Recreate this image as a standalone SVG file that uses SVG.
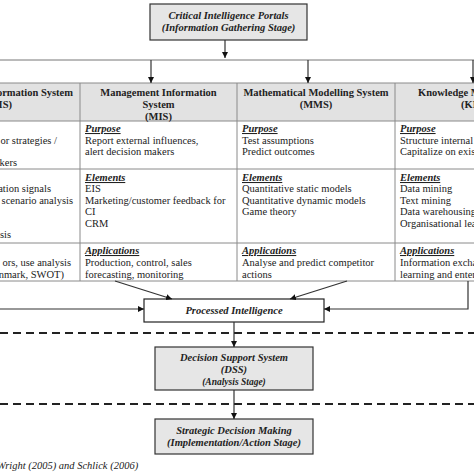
<svg xmlns="http://www.w3.org/2000/svg" width="474" height="474" viewBox="0 0 474 474">
<style>
text{font-family:"Liberation Serif","Times New Roman",serif;font-size:10.5px;fill:#222}
.h{font-weight:bold;text-anchor:middle}
.bi{font-weight:bold;font-style:italic;text-anchor:middle}
.sub{font-weight:bold;font-style:italic;text-decoration:underline}
.e{text-anchor:end}
.box{fill:#e6e6e6;stroke:#333;stroke-width:1.2}
.grid{stroke:#8a8a8a;stroke-width:1;fill:none}
.ln{stroke:#333;stroke-width:1.2;fill:none}
.dash{stroke:#222;stroke-width:2;stroke-dasharray:8 5;fill:none}
</style>
<defs>
<marker id="ah" viewBox="0 0 10 10" refX="10" refY="5" markerWidth="6" markerHeight="6" orient="auto" markerUnits="userSpaceOnUse">
<path d="M0,0 L10,5 L0,10 z" fill="#111"/>
</marker>
</defs>
<rect width="474" height="474" fill="#fff"/>

<g id="portals">
<rect class="box" x="150" y="4" width="157" height="36"/>
<text class="bi" x="228.5" y="19">Critical Intelligence Portals</text>
<text class="bi" x="228.5" y="31">(Information Gathering Stage)</text>
</g>

<g id="table">
<rect x="-2" y="83" width="478" height="38" fill="#e2e2e2"/>
<path class="grid" d="M-2,83 H476 M-2,121 H476 M-2,169 H476 M-2,243 H476 M-2,281 H476 M80,83 V281 M237,83 V281 M395,83 V281"/>
</g>

<g id="col-left">
<text class="h e" x="73" y="96">Information System</text>
<text class="h e" x="12" y="108">(IS)</text>
<text class="e" x="57" y="144">or strategies /</text>
<text class="e" x="17" y="166">kers</text>
<text class="e" x="51" y="192">ation signals</text>
<text class="e" x="73" y="204">scenario analysis</text>
<text class="e" x="11" y="238">sis</text>
<text class="e" x="71" y="266">ors, use analysis</text>
<text class="e" x="64" y="278">nmark, SWOT)</text>
</g>

<g id="col-mis">
<text class="h" x="158.5" y="96">Management Information</text>
<text class="h" x="158.5" y="108">System</text>
<text class="h" x="158.5" y="120">(MIS)</text>
<text class="sub" x="85" y="132">Purpose</text>
<text x="85" y="144">Report external influences,</text>
<text x="85" y="155">alert decision makers</text>
<text class="sub" x="85" y="181">Elements</text>
<text x="85" y="192">EIS</text>
<text x="85" y="204">Marketing/customer feedback for</text>
<text x="85" y="215">CI</text>
<text x="85" y="227">CRM</text>
<text class="sub" x="85" y="254">Applications</text>
<text x="85" y="266">Production, control, sales</text>
<text x="85" y="278">forecasting, monitoring</text>
</g>

<g id="col-mms">
<text class="h" x="316" y="96">Mathematical Modelling System</text>
<text class="h" x="316" y="108">(MMS)</text>
<text class="sub" x="242" y="132">Purpose</text>
<text x="242" y="144">Test assumptions</text>
<text x="242" y="155">Predict outcomes</text>
<text class="sub" x="242" y="181">Elements</text>
<text x="242" y="192">Quantitative static models</text>
<text x="242" y="204">Quantitative dynamic models</text>
<text x="242" y="215">Game theory</text>
<text class="sub" x="242" y="254">Applications</text>
<text x="242" y="266">Analyse and predict competitor</text>
<text x="242" y="278">actions</text>
</g>

<g id="col-km">
<text style="font-weight:bold" x="418" y="96">Knowledge Management</text>
<text style="font-weight:bold" x="461" y="108">(KMS)</text>
<text class="sub" x="400" y="132">Purpose</text>
<text x="400" y="144">Structure internal knowledge</text>
<text x="400" y="155">Capitalize on existing knowledge</text>
<text class="sub" x="400" y="181">Elements</text>
<text x="400" y="192">Data mining</text>
<text x="400" y="204">Text mining</text>
<text x="400" y="215">Data warehousing</text>
<text x="400" y="227">Organisational learning</text>
<text class="sub" x="400" y="254">Applications</text>
<text x="400" y="266">Information exchange,</text>
<text x="400" y="278">learning and enterprise</text>
</g>

<g id="processed">
<rect x="144" y="299" width="180" height="23" fill="#fff" stroke="#222" stroke-width="1.2"/>
<text class="bi" x="234" y="314">Processed Intelligence</text>
</g>

<g id="dss">
<rect class="box" x="155" y="347" width="158" height="43"/>
<text class="bi" x="234" y="361">Decision Support System</text>
<text class="bi" x="234" y="373">(DSS)</text>
<text class="bi" x="234" y="385" style="font-size:9.5px">(Analysis Stage)</text>
</g>

<g id="sdm">
<rect class="box" x="155" y="419" width="158" height="35"/>
<text class="bi" x="234" y="434">Strategic Decision Making</text>
<text class="bi" x="234" y="446">(Implementation/Action Stage)</text>
</g>

<g id="separators">
<path class="dash" d="M0,333 H474"/>
<path class="dash" d="M0,404 H474"/>
</g>

<g id="connectors">
<path class="ln" d="M225,40 V58" marker-end="url(#ah)"/>
<path class="grid" d="M-2,60 H476" style="stroke:#777"/>
<path class="ln" d="M151,60 V83" marker-end="url(#ah)"/>
<path class="ln" d="M308,60 V83" marker-end="url(#ah)"/>
<path class="ln" d="M473,60 V83" marker-end="url(#ah)"/>
<path class="ln" d="M115,281 L172,299" marker-end="url(#ah)"/>
<path class="ln" d="M347,281 L290,299" marker-end="url(#ah)"/>
<path class="ln" d="M-2,309 H144" marker-end="url(#ah)"/>
<path class="ln" d="M468,281 V309 H324" marker-end="url(#ah)"/>
<path class="ln" d="M234,322 V347" marker-end="url(#ah)"/>
<path class="ln" d="M234,390 V419" marker-end="url(#ah)"/>
</g>

<text x="-3" y="469" style="font-style:italic">Wright (2005) and Schlick (2006)</text>
</svg>
